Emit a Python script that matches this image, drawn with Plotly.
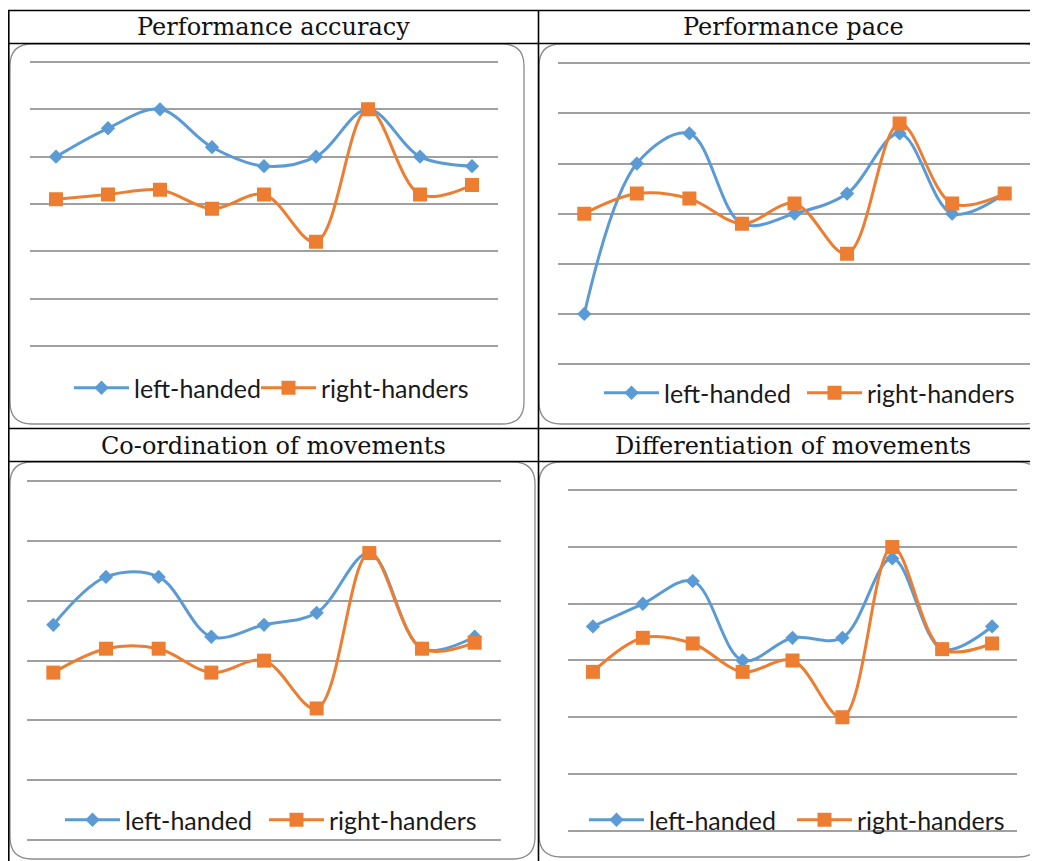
import plotly.graph_objects as go

W, H = 1038, 861
OFF = 8  # page body margin of the browser

categories = ["1", "2", "3", "4", "5", "6", "7", "8", "9"]
series_names = ["left-handed", "right-handers"]
panel_titles = ["Performance accuracy", "Performance pace",
                "Co-ordination of movements", "Differentiation of movements"]

accuracy_left = [4.0, 4.6, 5.0, 4.2, 3.8, 4.0, 5.0, 4.0, 3.8]
accuracy_right = [3.1, 3.2, 3.3, 2.9, 3.2, 2.2, 5.0, 3.2, 3.4]
pace_left = [1.0, 4.0, 4.6, 2.8, 3.0, 3.4, 4.6, 3.0, 3.4]
pace_right = [3.0, 3.4, 3.3, 2.8, 3.2, 2.2, 4.8, 3.2, 3.4]
coord_left = [3.6, 4.4, 4.4, 3.4, 3.6, 3.8, 4.8, 3.2, 3.4]
coord_right = [2.8, 3.2, 3.2, 2.8, 3.0, 2.2, 4.8, 3.2, 3.3]
diff_left = [3.6, 4.0, 4.4, 3.0, 3.4, 3.4, 4.8, 3.2, 3.6]
diff_right = [2.8, 3.4, 3.3, 2.8, 3.0, 2.0, 5.0, 3.2, 3.3]

BLUE = "#5B9BD5"
ORANGE = "#ED7D31"


def fx(px):
    return (px - OFF) / W


def fy(py):
    return 1 - (py - OFF) / H


# panel geometry in screen pixels: plot area (x0, x1, ytop, ybottom)
plot_areas = [(30, 498, 62, 346), (558, 1031, 63.3, 364),
              (27, 501, 481.3, 840), (568, 1017, 490.3, 830.7)]
frames = [(10, 524, 44, 424), (539, 1046, 44, 424),
          (10, 535, 462, 859), (539, 1040, 462, 857)]
# legend entries: (x of left-handed, x of right-handers, y centre)
legend_pos = [(75, 262, 388), (605, 808, 393), (66, 270, 820), (590, 798, 820)]
title_pos = [(273, 27), (793, 27), (273, 446), (793, 446)]

data = [(accuracy_left, accuracy_right), (pace_left, pace_right),
        (coord_left, coord_right), (diff_left, diff_right)]

fig = go.Figure()
layout = {}
shapes = []
annotations = []
PAD = 0.06
legend_font = dict(family="Lato, Carlito, sans-serif", size=25, color="#1a1a1a")

for i in range(4):
    ax = "" if i == 0 else str(i + 1)
    lg_a = "legend" if i == 0 else "legend" + str(2 * i + 1)
    lg_b = "legend" + str(2 * i + 2)
    left, right = data[i]
    fig.add_trace(go.Scatter(
        x=categories, y=left, name=series_names[0], mode="lines+markers",
        line=dict(color=BLUE, width=3, shape="spline", smoothing=1.0),
        marker=dict(symbol="diamond", size=11, color=BLUE),
        xaxis="x" + ax, yaxis="y" + ax, legend=lg_a, showlegend=True))
    fig.add_trace(go.Scatter(
        x=categories, y=right, name=series_names[1], mode="lines+markers",
        line=dict(color=ORANGE, width=3, shape="spline", smoothing=1.0),
        marker=dict(symbol="square", size=14, color=ORANGE),
        xaxis="x" + ax, yaxis="y" + ax, legend=lg_b, showlegend=True))

    x0, x1, yt, yb = plot_areas[i]
    ppu = (yb - yt) / 6.0
    layout["xaxis" + ax] = dict(
        domain=[fx(x0), fx(x1)], type="category", range=[-0.5, 8.5],
        showgrid=False, showticklabels=False, showline=False, zeroline=False,
        ticks="", anchor="y" + ax, fixedrange=True)
    layout["yaxis" + ax] = dict(
        domain=[fy(yb + PAD * ppu), fy(yt - PAD * ppu)],
        range=[-PAD, 6 + PAD], dtick=1, tick0=0,
        showgrid=True, gridcolor="#A0A0A0", gridwidth=1.5,
        showticklabels=False, showline=False, zeroline=False, ticks="",
        anchor="x" + ax, fixedrange=True)

    la, lb, ly = legend_pos[i]
    for name, lx in ((lg_a, la), (lg_b, lb)):
        layout[name] = dict(
            x=fx(lx - 6), y=fy(ly), xanchor="left", yanchor="middle",
            orientation="h", bgcolor="rgba(0,0,0,0)", font=legend_font,
            itemwidth=55, tracegroupgap=0, visible=True)

    # rounded chart frame
    fx0, fx1, fy0, fy1 = frames[i]
    r = 22
    path = (f"M {fx(fx0 + r)},{fy(fy0)} L {fx(fx1 - r)},{fy(fy0)} "
            f"Q {fx(fx1)},{fy(fy0)} {fx(fx1)},{fy(fy0 + r)} "
            f"L {fx(fx1)},{fy(fy1 - r)} "
            f"Q {fx(fx1)},{fy(fy1)} {fx(fx1 - r)},{fy(fy1)} "
            f"L {fx(fx0 + r)},{fy(fy1)} "
            f"Q {fx(fx0)},{fy(fy1)} {fx(fx0)},{fy(fy1 - r)} "
            f"L {fx(fx0)},{fy(fy0 + r)} "
            f"Q {fx(fx0)},{fy(fy0)} {fx(fx0 + r)},{fy(fy0)} Z")
    shapes.append(dict(type="path", path=path, xref="paper", yref="paper",
                       line=dict(color="#8C8C8C", width=1.3),
                       fillcolor="white", layer="below"))

    tx, ty = title_pos[i]
    annotations.append(dict(
        text=panel_titles[i], x=fx(tx), y=fy(ty), xref="paper", yref="paper",
        xanchor="center", yanchor="middle", showarrow=False,
        font=dict(family="DejaVu Serif, serif", size=24, color="#111111")))

# table lines
table_lines = [
    (8, 10.5, 1060, 10.5), (8, 43.5, 1060, 43.5),
    (8, 428.5, 1060, 428.5), (8, 461.5, 1060, 461.5),
    (8.8, 10.5, 8.8, 880), (538.5, 10.5, 538.5, 880),
]
for (x0, y0, x1, y1) in table_lines:
    shapes.append(dict(type="line", xref="paper", yref="paper",
                       x0=fx(x0), y0=fy(y0), x1=fx(x1), y1=fy(y1),
                       line=dict(color="black", width=1.6), layer="above"))

fig.update_layout(
    width=W, height=H, margin=dict(l=0, r=0, t=0, b=0),
    paper_bgcolor="white", plot_bgcolor="rgba(0,0,0,0)", showlegend=True,
    shapes=shapes, annotations=annotations, **layout)

fig.write_html("out.html")
